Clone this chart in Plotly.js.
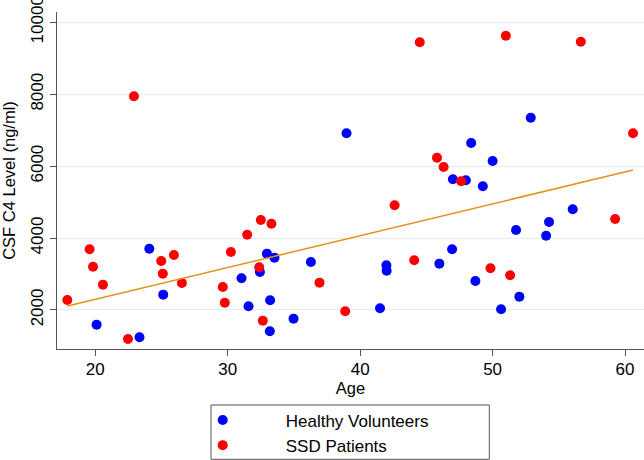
<!DOCTYPE html>
<html>
<head>
<meta charset="utf-8">
<script src="https://cdn.plot.ly/plotly-3.0.1.min.js"></script>
<style>html,body{margin:0;padding:0;background:#fff;}#chart{width:644px;height:460px;}</style>
</head>
<body>
<div id="chart"></div>
<script>
// Healthy Volunteers
var hvAge = [20.1, 23.34, 24.08, 25.13, 31.04, 31.57, 32.43, 32.96, 33.53, 33.2, 33.18, 34.97, 36.28, 38.97, 41.5, 41.98, 42.0, 45.98, 46.94, 47.0, 47.98, 48.38, 48.7, 49.26, 50.0, 50.64, 51.77, 52.02, 52.88, 54.04, 54.26, 56.05];
var hvC4 = [1592, 1240, 3705, 2426, 2880, 2102, 3057, 3566, 3455, 2269, 1407, 1759, 3335, 6913, 2046, 3242, 3093, 3288, 3688, 5634, 5606, 6643, 2807, 5440, 6144, 2019, 4225, 2371, 7347, 4066, 4447, 4800];
// SSD Patients
var ssdAge = [17.89, 19.57, 19.83, 20.58, 22.47, 22.92, 24.98, 25.1, 25.94, 26.54, 29.63, 29.78, 30.24, 31.47, 32.5, 33.3, 32.38, 32.65, 36.93, 38.87, 42.6, 44.08, 44.5, 45.8, 46.3, 47.62, 49.84, 51.0, 51.32, 56.66, 59.25, 60.6];
var ssdC4 = [2278, 3688, 3204, 2704, 1194, 7942, 3363, 3010, 3529, 2751, 2640, 2203, 3613, 4094, 4503, 4400, 3187, 1704, 2760, 1963, 4911, 3382, 9444, 6235, 5976, 5578, 3160, 9627, 2966, 9461, 4531, 6913];
// Linear fit line
var fitAge = [17.9, 60.6];
var fitC4 = [2110, 5890];
// Ticks
var xTicks = [20, 30, 40, 50, 60];
var yTicks = [2000, 4000, 6000, 8000, 10000];

var FONT = 'Liberation Sans, Arial, Helvetica, sans-serif';

var traces = [
  {x: hvAge, y: hvC4, type: 'scatter', mode: 'markers', name: 'Healthy Volunteers',
   marker: {color: '#0000ff', size: 10}},
  {x: ssdAge, y: ssdC4, type: 'scatter', mode: 'markers', name: 'SSD Patients',
   marker: {color: '#ff0000', size: 10}},
  {x: fitAge, y: fitC4, type: 'scatter', mode: 'lines', showlegend: false,
   line: {color: '#e8901c', width: 1.5}, hoverinfo: 'skip'}
];

var layout = {
  width: 644, height: 460,
  margin: {l: 57, r: 0, t: 12, b: 111, autoexpand: false},
  paper_bgcolor: '#ffffff', plot_bgcolor: '#ffffff',
  font: {family: FONT, size: 17, color: '#000'},
  showlegend: true,
  xaxis: {
    range: [17.11, 61.43], tickvals: xTicks, ticktext: xTicks.map(String),
    ticks: 'outside', ticklen: 6, tickcolor: '#555', tickwidth: 1,
    ticklabelstandoff: -2,
    showline: true, linecolor: '#555', linewidth: 1.2,
    showgrid: false, zeroline: false,
    tickfont: {family: FONT, size: 17, color: '#000'},
    title: {text: 'Age', font: {family: FONT, size: 16.5, color: '#000'}, standoff: 1}
  },
  yaxis: {
    range: [915, 10286], tickvals: yTicks, ticktext: yTicks.map(String),
    ticks: 'outside', ticklen: 6, tickcolor: '#555', tickwidth: 1,
    tickangle: -90, ticklabeloverflow: 'allow',
    showline: true, linecolor: '#555', linewidth: 1.2,
    showgrid: true, gridcolor: '#e3ecf0', gridwidth: 1, zeroline: false,
    tickfont: {family: FONT, size: 17, color: '#000'},
    title: {text: 'CSF C4 Level (ng/ml)', font: {family: FONT, size: 16.5, color: '#000'}, standoff: 12}
  },
  legend: {
    x: 0.175, xanchor: 'left', y: -0.1587, yanchor: 'top',
    orientation: 'v', bgcolor: 'rgba(0,0,0,0)', borderwidth: 0,
    itemwidth: 116, font: {family: FONT, size: 17, color: '#000'},
    tracegroupgap: 0
  },
  shapes: [{
    type: 'rect', xref: 'paper', yref: 'paper',
    x0: 0.2624, x1: 0.7365, y0: -0.3273, y1: -0.1662,
    line: {color: '#555', width: 1}, fillcolor: 'rgba(0,0,0,0)', layer: 'above'
  }]
};

Plotly.newPlot('chart', traces, layout, {displayModeBar: false, staticPlot: true});
</script>
</body>
</html>
